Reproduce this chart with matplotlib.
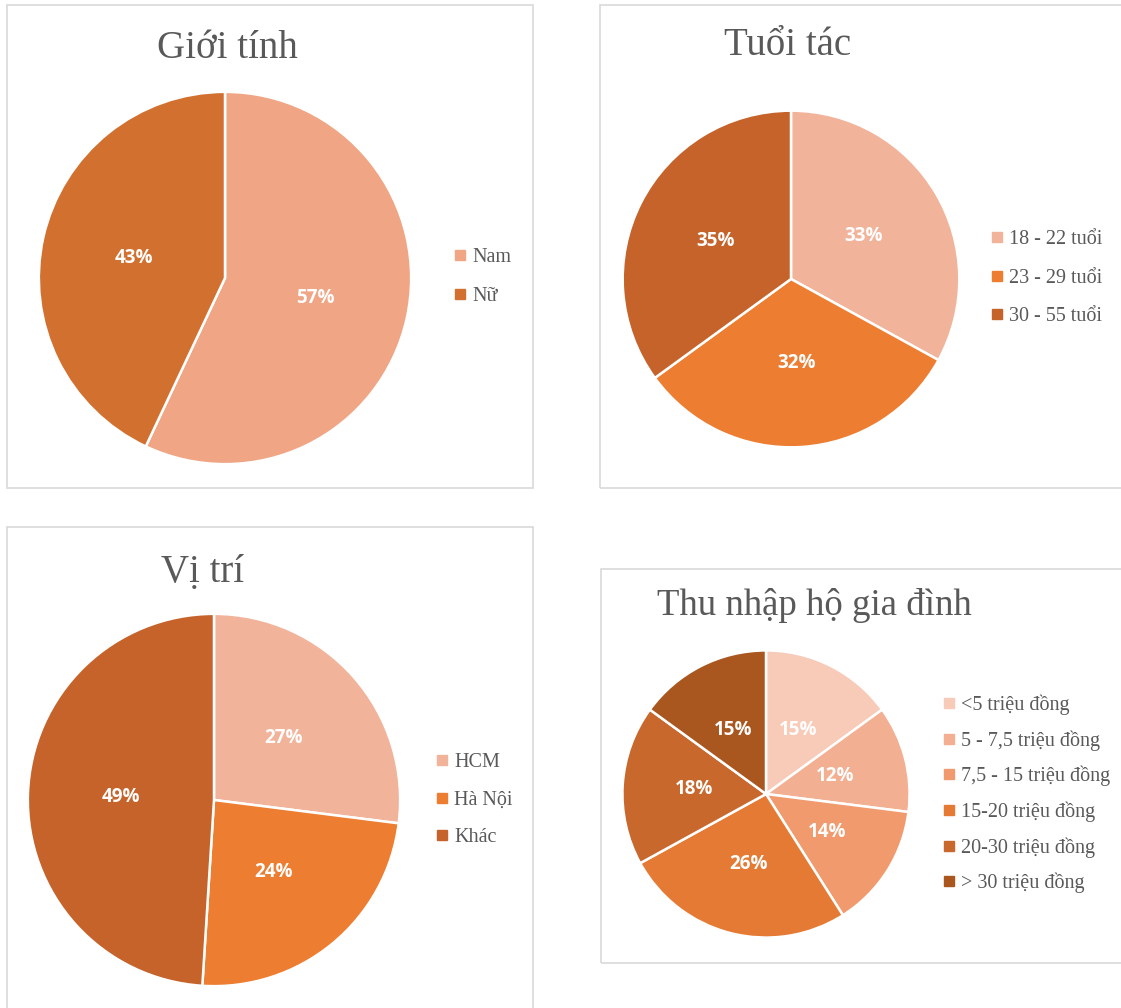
import matplotlib
matplotlib.use('Agg')
import matplotlib.pyplot as plt
from matplotlib.patches import Rectangle
from matplotlib.lines import Line2D

W, H = 1121, 1008

# du lieu
gioi_tinh_labels = ['Nam', 'Nữ']
gioi_tinh_values = [57, 43]
gioi_tinh_colors = ['#F0A585', '#D2702F']

tuoi_labels = ['18 - 22 tuổi', '23 - 29 tuổi', '30 - 55 tuổi']
tuoi_values = [33, 32, 35]
tuoi_colors = ['#F2B39B', '#ED7D31', '#C5632A']

vitri_labels = ['HCM', 'Hà Nội', 'Khác']
vitri_values = [27, 24, 49]
vitri_colors = ['#F2B39B', '#ED7D31', '#C5632A']

thunhap_labels = ['<5 triệu đồng', '5 - 7,5 triệu đồng', '7,5 - 15 triệu đồng',
                  '15-20 triệu đồng', '20-30 triệu đồng', '> 30 triệu đồng']
thunhap_values = [15, 12, 14, 26, 18, 15]
thunhap_colors = ['#F7CBB8', '#F3AF91', '#F09A6E', '#E57A34', '#C8682C', '#A9561F']

fig = plt.figure(figsize=(W / 100, H / 100), dpi=100)
fig.patch.set_facecolor('white')

SERIF = ['Liberation Serif', 'DejaVu Serif']
GREY = '#595959'


def box(x0, y0, x1, y1):
    fig.patches.append(Rectangle((x0 / W, 1 - y1 / H), (x1 - x0) / W, (y1 - y0) / H,
                                 transform=fig.transFigure, fill=False,
                                 edgecolor='#D9D9D9', lw=1.2))


def draw_pie(cx, cy, r, values, colors, labels, title, tsize, tx, ty, ha, lx, ly, spacing):
    ax = fig.add_axes([(cx - r) / W, 1 - (cy + r) / H, 2 * r / W, 2 * r / H])
    ax.pie(values, colors=colors, startangle=90, counterclock=False, radius=1,
           autopct=lambda p: f'{p:.0f}%', pctdistance=0.5,
           wedgeprops=dict(edgecolor='white', linewidth=1.8),
           textprops=dict(color='white', fontsize=13.5, fontweight='bold',
                          family=['Open Sans', 'DejaVu Sans']))
    ax.set_xlim(-1.01, 1.01)
    ax.set_ylim(-1.01, 1.01)
    ax.set_aspect('equal')
    ax.axis('off')
    fig.text(tx / W, 1 - ty / H, title, ha=ha, va='baseline', fontsize=tsize,
             color=GREY, family=SERIF)
    handles = [Line2D([], [], marker='s', color=c, lw=0, markersize=6.5) for c in colors]
    fig.legend(handles, labels, loc='center left', bbox_to_anchor=(lx / W, 1 - ly / H),
               frameon=False, borderpad=0, borderaxespad=0, handlelength=0.5,
               handletextpad=0.35, labelspacing=spacing,
               prop=dict(family=SERIF, size=14.5), labelcolor=GREY)


box(7, 5, 533, 488)
box(600, 5, 1125, 488)
box(7, 527, 533, 1012)
box(601, 569, 1125, 963)

draw_pie(225, 278, 188, gioi_tinh_values, gioi_tinh_colors, gioi_tinh_labels,
         'Giới tính', 28, 227, 58, 'center', 455, 277, 0.95)
draw_pie(791, 279, 170, tuoi_values, tuoi_colors, tuoi_labels,
         'Tuổi tác', 28, 788, 55, 'center', 992, 278, 0.95)
draw_pie(214, 800, 188, vitri_values, vitri_colors, vitri_labels,
         'Vị trí', 28, 203, 582, 'center', 437, 800, 0.9)
draw_pie(766, 794, 145, thunhap_values, thunhap_colors, thunhap_labels,
         'Thu nhập hộ gia đình', 26.5, 657, 615, 'left', 944, 794, 0.75)

fig.savefig('out.png', dpi=100)
